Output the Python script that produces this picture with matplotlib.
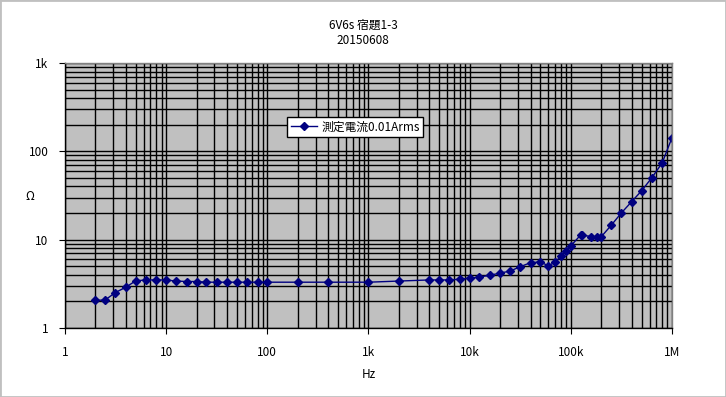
import matplotlib.pyplot as plt
from matplotlib.ticker import FixedLocator, LogLocator, NullFormatter
from matplotlib.patches import Rectangle

plt.rcParams['font.family'] = ['Noto Sans CJK JP', 'DejaVu Sans']

freq = [2, 2.5, 3.15, 4, 5, 6.3, 8, 10, 12.5, 16, 20, 25, 31.5, 40, 50, 63, 80, 100,
        200, 400, 1000, 2000, 4000, 5000, 6300, 8000, 10000, 12500, 16000, 20000,
        25000, 31500, 40000, 50000, 60000, 70000, 80000, 90000, 100000, 125000,
        130000, 160000, 180000, 200000, 250000, 315000, 400000, 500000, 630000,
        800000, 1000000]
ohm = [2.05, 2.08, 2.52, 2.9, 3.42, 3.5, 3.5, 3.5, 3.4, 3.36, 3.36, 3.3, 3.3, 3.3,
       3.3, 3.3, 3.3, 3.3, 3.3, 3.3, 3.3, 3.4, 3.5, 3.5, 3.5, 3.57, 3.67, 3.77,
       3.97, 4.18, 4.41, 4.93, 5.5, 5.6, 5.05, 5.6, 6.5, 7.4, 8.5, 11.3, 11.3,
       10.8, 10.8, 10.8, 14.5, 20, 27, 35.7, 50, 74, 143]

xticks = [1, 10, 100, 1e3, 1e4, 1e5, 1e6]
xlabels = ['1', '10', '100', '1k', '10k', '100k', '1M']
yticks = [1, 10, 100, 1000]
ylabels = ['1', '10', '100', '1k']

fig = plt.figure(figsize=(7.26, 3.97), dpi=100)
fig.patches.append(Rectangle((0, 0), 1, 1, transform=fig.transFigure,
                             fill=False, edgecolor='#c0c0c0', lw=2))
ax = fig.add_axes([65/726, 69/397, 607/726, 265/397])
ax.set_facecolor('#c0c0c0')
ax.set_xscale('log')
ax.set_yscale('log')
ax.set_xlim(1, 1e6)
ax.set_ylim(1, 1000)

ax.plot(freq, ohm, color='#000080', lw=1, marker='D', ms=4,
        label='測定電流0.01Arms')

ax.xaxis.set_major_locator(FixedLocator(xticks))
ax.set_xticklabels(xlabels)
ax.yaxis.set_major_locator(FixedLocator(yticks))
ax.set_yticklabels(ylabels)
ax.xaxis.set_minor_locator(LogLocator(base=10, subs=range(2, 10), numticks=20))
ax.yaxis.set_minor_locator(LogLocator(base=10, subs=range(2, 10), numticks=20))
ax.xaxis.set_minor_formatter(NullFormatter())
ax.yaxis.set_minor_formatter(NullFormatter())
ax.grid(True, which='both', color='black', lw=1)
ax.set_axisbelow(True)
ax.tick_params(which='major', length=4, labelsize=8.5)
ax.tick_params(axis='x', which='major', pad=9)
ax.tick_params(axis='y', which='major', pad=8)
ax.tick_params(which='minor', length=0)
for s in ax.spines.values():
    s.set_color('black')
    s.set_linewidth(1)
ax.spines['right'].set_color('#808080')
ax.spines['top'].set_color('#808080')

ax.set_xlabel('Hz', fontsize=8.5)
ax.xaxis.set_label_coords(0.5, -(368 - 328) / 265)
ax.set_ylabel('Ω', fontsize=8.5, rotation=0, va='center', ha='center')
ax.yaxis.set_label_coords(-(65 - 30) / 607, (328 - 197) / 265)

fig.text(363/726, 1 - 25/397, '6V6s 宿題1-3', ha='center', va='center', fontsize=8.5)
fig.text(363/726, 1 - 41/397, '20150608', ha='center', va='center', fontsize=8.5)

leg = ax.legend(loc='center left', bbox_to_anchor=(0.356, 0.758), fontsize=8.5,
                frameon=True, fancybox=False, framealpha=1, edgecolor='black',
                borderpad=0.3, handlelength=2.2, handletextpad=0.4)
leg.get_frame().set_linewidth(1)

fig.savefig('out.png', dpi=100)
